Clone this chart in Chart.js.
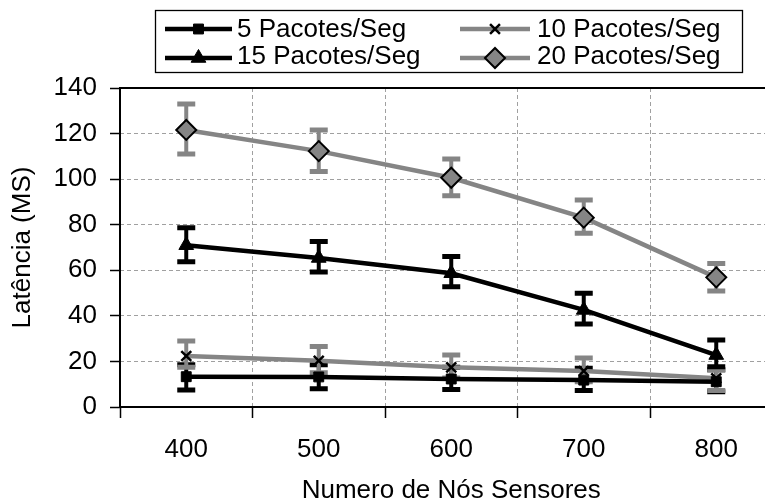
<!DOCTYPE html>
<html><head><meta charset="utf-8">
<script src="https://cdn.jsdelivr.net/npm/chart.js@4/dist/chart.umd.min.js"></script>
<style>
html,body{margin:0;padding:0;background:#fff;overflow:hidden}
#wrap{width:765px;height:504px;overflow:hidden;position:relative}
canvas{display:block}
</style>
</head><body>
<div id="wrap"><canvas id="c" width="800" height="504"></canvas></div>
<script>
// ---- data ----
const categories = ['400', '500', '600', '700', '800'];
const seriesNames = ['5 Pacotes/Seg', '10 Pacotes/Seg', '15 Pacotes/Seg', '20 Pacotes/Seg'];

const s5  = [13.3, 13.2, 12.3, 11.8, 11.1];
const s5Hi = [18.5, 18.5, 17.5, 17.0, 16.3];
const s5Lo = [7.5, 8.0, 7.7, 7.2, 6.7];

const s10  = [22.4, 20.3, 17.4, 15.8, 12.6];
const s10Hi = [29.0, 26.5, 22.8, 21.5, 16.2];
const s10Lo = [17.5, 15.0, 12.7, 11.1, 7.2];

const s15  = [71.0, 65.4, 58.7, 42.6, 22.8];
const s15Hi = [78.7, 72.6, 66.0, 49.9, 29.4];
const s15Lo = [63.8, 59.2, 52.8, 36.4, 17.7];

const s20  = [121.6, 112.3, 100.6, 83.1, 56.9];
const s20Hi = [133.0, 121.6, 108.8, 90.8, 63.0];
const s20Lo = [111.0, 103.3, 92.7, 76.2, 50.9];

const yMin = 0, yMax = 140, yStep = 20;
const xTitle = 'Numero de Nós Sensores';
const yTitle = 'Latência (MS)';

// ---- style ----
const BLACK = '#000000';
const GRAY = '#858585';
const FONT = '"Liberation Sans", Arial, sans-serif';
const FS = 26;

const errHi = [s5Hi, s10Hi, s15Hi, s20Hi];
const errLo = [s5Lo, s10Lo, s15Lo, s20Lo];

const errorBars = {
  id: 'errorBars',
  beforeDatasetsDraw(chart) {
    const ctx = chart.ctx;
    const ys = chart.scales.y;
    chart.data.datasets.forEach((ds, i) => {
      const meta = chart.getDatasetMeta(i);
      ctx.save();
      ctx.strokeStyle = ds.borderColor;
      ctx.lineCap = 'butt';
      meta.data.forEach((pt, j) => {
        const x = pt.x;
        const yh = ys.getPixelForValue(errHi[i][j]);
        const yl = ys.getPixelForValue(errLo[i][j]);
        ctx.lineWidth = 4;
        ctx.beginPath();
        ctx.moveTo(x, yh); ctx.lineTo(x, yl);
        ctx.stroke();
        ctx.lineWidth = 5;
        ctx.beginPath();
        ctx.moveTo(x - 9, yh); ctx.lineTo(x + 9, yh);
        ctx.moveTo(x - 9, yl); ctx.lineTo(x + 9, yl);
        ctx.stroke();
      });
      ctx.restore();
    });
  }
};

function drawMarker(ctx, ds, x, y) {
  const r = ds.pointRadius;
  ctx.save();
  ctx.fillStyle = ds.pointBackgroundColor;
  ctx.strokeStyle = ds.pointBorderColor;
  ctx.lineWidth = ds.pointBorderWidth;
  ctx.beginPath();
  if (ds.pointStyle === 'rect') {
    const s = r * Math.SQRT1_2;
    ctx.rect(x - s, y - s, 2 * s, 2 * s);
    ctx.fill(); ctx.stroke();
  } else if (ds.pointStyle === 'triangle') {
    const edge = 3 * r / Math.sqrt(3);
    const h = edge * Math.sqrt(3) / 2;
    ctx.moveTo(x - edge / 2, y + h / 3);
    ctx.lineTo(x + edge / 2, y + h / 3);
    ctx.lineTo(x, y - 2 * h / 3);
    ctx.closePath();
    ctx.fill(); ctx.stroke();
  } else if (ds.pointStyle === 'rectRot') {
    ctx.moveTo(x - r, y); ctx.lineTo(x, y - r); ctx.lineTo(x + r, y); ctx.lineTo(x, y + r);
    ctx.closePath();
    ctx.fill(); ctx.stroke();
  } else if (ds.pointStyle === 'crossRot') {
    const s = r * Math.SQRT1_2;
    ctx.moveTo(x - s, y - s); ctx.lineTo(x + s, y + s);
    ctx.moveTo(x + s, y - s); ctx.lineTo(x - s, y + s);
    ctx.stroke();
  }
  ctx.restore();
}

const frameAndLegend = {
  id: 'frameAndLegend',
  afterDraw(chart) {
    const ctx = chart.ctx;
    const a = chart.chartArea;
    ctx.save();
    ctx.strokeStyle = BLACK;
    ctx.lineWidth = 2;
    ctx.beginPath();
    ctx.moveTo(a.right + 5, a.top); ctx.lineTo(a.left, a.top); ctx.lineTo(a.left, a.bottom); ctx.lineTo(a.right + 5, a.bottom);
    ctx.stroke();

    // legend
    ctx.lineWidth = 1.3;
    ctx.strokeRect(155.5, 10.5, 587, 62);
    const cols = [{x0: 165, x1: 232, tx: 237}, {x0: 460, x1: 530, tx: 537}];
    const rows = [{ly: 29, ty: 30}, {ly: 58, ty: 57}];
    const order = [[0, 0, 0], [1, 1, 0], [2, 0, 1], [3, 1, 1]];
    ctx.font = FS + 'px ' + FONT;
    ctx.textBaseline = 'middle';
    ctx.textAlign = 'left';
    order.forEach(([di, ci, ri]) => {
      const ds = chart.data.datasets[di];
      const c = cols[ci], r = rows[ri];
      ctx.strokeStyle = ds.borderColor;
      ctx.lineWidth = 4.5;
      ctx.beginPath();
      ctx.moveTo(c.x0, r.ly); ctx.lineTo(c.x1, r.ly);
      ctx.stroke();
      drawMarker(ctx, ds, (c.x0 + c.x1) / 2, r.ly);
      ctx.fillStyle = BLACK;
      ctx.fillText(seriesNames[di], c.tx, r.ty);
    });
    ctx.restore();
  }
};

function mk(label, data, color, style, radius, bg, bc, bw) {
  return {
    label, data,
    borderColor: color, borderWidth: 4.5,
    pointStyle: style, pointRadius: radius, pointHoverRadius: radius,
    pointBackgroundColor: bg, pointBorderColor: bc, pointBorderWidth: bw,
    tension: 0, fill: false
  };
}

new Chart(document.getElementById('c'), {
  type: 'line',
  data: {
    labels: categories,
    datasets: [
      mk(seriesNames[0], s5, BLACK, 'rect', 7, BLACK, BLACK, 1),
      mk(seriesNames[1], s10, GRAY, 'crossRot', 7, BLACK, BLACK, 2.5),
      mk(seriesNames[2], s15, BLACK, 'triangle', 8.5, BLACK, BLACK, 1),
      mk(seriesNames[3], s20, GRAY, 'rectRot', 10, GRAY, BLACK, 2)
    ]
  },
  options: {
    responsive: false,
    animation: false,
    events: [],
    layout: { padding: { left: 0, top: 88, right: 17.5, bottom: 0 } },
    plugins: { legend: { display: false }, tooltip: { enabled: false }, title: { display: false } },
    scales: {
      x: {
        type: 'category',
        offset: true,
        grid: { offset: true, color: '#a0a0a0', lineWidth: 1, tickColor: BLACK, tickLength: 11, tickWidth: 1.5, tickBorderDash: [] },
        border: { display: false, dash: [4, 3] },
        ticks: { color: BLACK, font: { family: FONT, size: FS }, padding: 16, maxRotation: 0 },
        title: { display: true, text: xTitle, color: BLACK, font: { family: FONT, size: FS, lineHeight: 1 }, padding: { top: 0, bottom: 0 } },
        afterFit(s) { s.height = 97; }
      },
      y: {
        min: yMin, max: yMax,
        grid: { color: '#a0a0a0', lineWidth: 1, tickColor: BLACK, tickLength: 10, tickWidth: 1.5, tickBorderDash: [] },
        border: { display: false, dash: [4, 3] },
        ticks: { stepSize: yStep, color: BLACK, font: { family: FONT, size: FS }, padding: 13 },
        title: { display: true, text: yTitle, color: BLACK, font: { family: FONT, size: FS, lineHeight: 1 }, padding: { top: 10, bottom: 0 } },
        afterFit(s) { s.width = 120; }
      }
    }
  },
  plugins: [errorBars, frameAndLegend]
});
</script>
</body></html>
